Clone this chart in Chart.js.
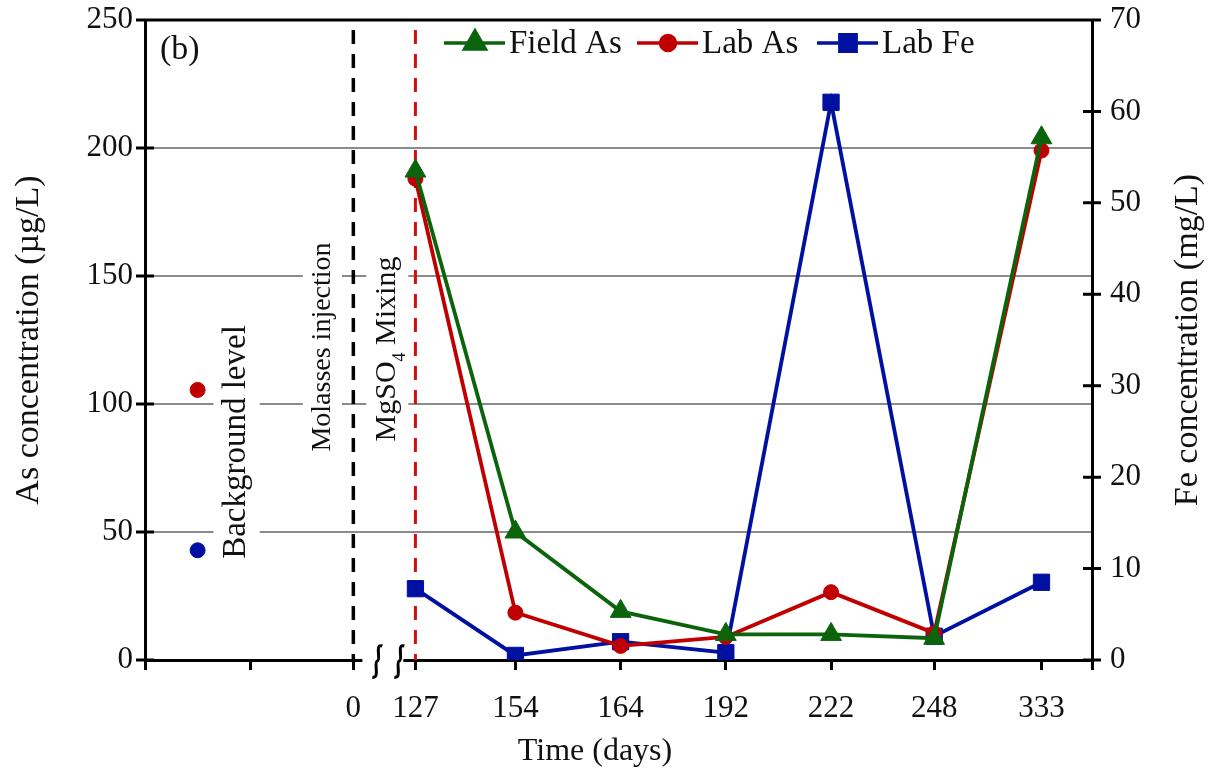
<!DOCTYPE html>
<html>
<head>
<meta charset="utf-8">
<script src="https://cdn.jsdelivr.net/npm/chart.js@4.4.1/dist/chart.umd.min.js"></script>
<style>
  html, body { margin: 0; padding: 0; background: #fff; }
  #wrap { width: 1210px; height: 778px; }
</style>
</head>
<body>
<div id="wrap"><canvas id="asFeChart" width="1210" height="778"></canvas></div>
<script>
const dayLabels = ['0', '127', '154', '164', '192', '222', '248', '333'];
// where each sampling day sits on the broken time axis (0 and 127 straddle the break)
const daySlots = [1.98, 2.57, 3.52, 4.52, 5.52, 6.52, 7.5, 8.52];
const fieldAs = [191, 50, 19, 10, 10, 8.5, 204];
const labAs = [188, 18.5, 5.5, 9, 26.5, 10.5, 199];
const labFe = [7.8, 0.5, 2, 0.8, 61, 2.6, 8.5];
const backgroundSlot = 0.5;
const backgroundAs = 105.5;
const backgroundFe = 12;
const asTicks = [0, 50, 100, 150, 200, 250];
const feTicks = [0, 10, 20, 30, 40, 50, 60, 70];

const SERIF = '"Liberation Serif", "Times New Roman", serif';
const INK = '#111';
const GREEN = '#0b640b';
const RED = '#c00000';
const BLUE = '#0010a0';

const sampled = values => values.map((v, i) => ({ x: daySlots[i + 1], y: v }));

const seriesStyle = [
    { label: 'Field As', color: GREEN, pointStyle: 'triangle', radius: 12 },
    { label: 'Lab As', color: RED, pointStyle: 'circle', radius: 7.5 },
    { label: 'Lab Fe', color: BLUE, pointStyle: 'rect', radius: 11.5 }
];

function vText(ctx, parts, cx, cy, size) {
    // rotated (bottom-to-top) label on a white backing; parts = [[text, sub?], ...]
    ctx.save();
    ctx.translate(cx, cy);
    ctx.rotate(-Math.PI / 2);
    ctx.textBaseline = 'middle';
    ctx.textAlign = 'left';
    const widths = parts.map(p => {
        ctx.font = (p[1] ? size * 0.6 : size) + 'px ' + SERIF;
        return ctx.measureText(p[0]).width;
    });
    const total = widths.reduce((a, b) => a + b, 0);
    ctx.fillStyle = '#fff';
    ctx.fillRect(-total / 2 - 5, -size * 0.7, total + 10, size * 1.4);
    ctx.fillStyle = INK;
    let x = -total / 2;
    parts.forEach((p, i) => {
        ctx.font = (p[1] ? size * 0.6 : size) + 'px ' + SERIF;
        ctx.fillText(p[0], x, p[1] ? size * 0.42 : 0);
        x += widths[i];
    });
    ctx.restore();
}

const decorations = {
    id: 'decorations',
    beforeDatasetsDraw(chart) {
        const { ctx, chartArea: area, scales: { x } } = chart;
        const x0 = x.getPixelForValue(daySlots[0]);
        const x127 = x.getPixelForValue(daySlots[1]);

        vText(ctx, [['Background level']], x.getPixelForValue(backgroundSlot) + 39, 442, 33);
        vText(ctx, [['Molasses injection']], x0 - 31, 347, 28);
        vText(ctx, [['MgSO'], ['4', true], [' Mixing']], x0 + 34, 349, 30);

        // event markers
        ctx.save();
        ctx.lineWidth = 3.5;
        ctx.setLineDash([14, 10]);
        ctx.strokeStyle = '#000';
        ctx.beginPath();
        ctx.moveTo(x0, area.top + 10);
        ctx.lineTo(x0, area.bottom);
        ctx.stroke();
        ctx.strokeStyle = '#d01010';
        ctx.lineWidth = 3;
        ctx.beginPath();
        ctx.moveTo(x127, area.top + 10);
        ctx.lineTo(x127, area.bottom);
        ctx.stroke();
        ctx.restore();
    },
    afterDraw(chart) {
        const { ctx, chartArea: area, scales: { x, y, y1 } } = chart;
        ctx.save();

        // frame top and crossing tick marks on both value axes
        ctx.strokeStyle = '#000';
        ctx.lineWidth = 3;
        ctx.beginPath();
        ctx.moveTo(area.left - 1.5, area.top);
        ctx.lineTo(area.right + 1.5, area.top);
        asTicks.forEach(v => {
            const py = y.getPixelForValue(v);
            ctx.moveTo(area.left - 9, py);
            ctx.lineTo(area.left + 9, py);
        });
        feTicks.forEach(v => {
            const py = y1.getPixelForValue(v);
            ctx.moveTo(area.right - 9, py);
            ctx.lineTo(area.right + 9, py);
        });
        ctx.stroke();

        // axis break between day 0 and day 127
        const bx = x.getPixelForValue(daySlots[0]) + 9;
        ctx.fillStyle = '#fff';
        ctx.fillRect(bx, area.bottom - 3, 41, 6);
        ctx.lineWidth = 3;
        [bx + 15, bx + 37].forEach(sx => {
            const by = area.bottom;
            ctx.beginPath();
            ctx.moveTo(sx + 5, by - 14);
            ctx.bezierCurveTo(sx - 3, by - 17, sx + 4, by, sx, by + 1);
            ctx.bezierCurveTo(sx - 4, by + 2, sx + 3, by + 19, sx - 5, by + 17);
            ctx.stroke();
        });

        // legend along the top
        const ly = 43;
        const starts = [444, 637, 817];
        seriesStyle.forEach((s, i) => {
            const lx = starts[i];
            ctx.strokeStyle = s.color;
            ctx.fillStyle = s.color;
            ctx.lineWidth = 3.5;
            ctx.beginPath();
            ctx.moveTo(lx, ly);
            ctx.lineTo(lx + 61, ly);
            ctx.stroke();
            Chart.helpers.drawPoint(ctx, { pointStyle: s.pointStyle, radius: s.radius, rotation: 0, borderWidth: 1 }, lx + 31, ly);
            ctx.fillStyle = INK;
            ctx.font = '33px ' + SERIF;
            ctx.textAlign = 'left';
            ctx.textBaseline = 'middle';
            ctx.fillText(s.label, lx + 65, ly + 1);
        });

        // panel tag and the titles not handled by the scales
        ctx.fillStyle = INK;
        ctx.font = '34px ' + SERIF;
        ctx.textAlign = 'left';
        ctx.textBaseline = 'middle';
        ctx.fillText('(b)', area.left + 15, 50);

        ctx.font = '32px ' + SERIF;
        ctx.textAlign = 'center';
        ctx.fillText('Time (days)', 595, 752);

        ctx.translate(1188, (area.top + area.bottom) / 2);
        ctx.rotate(-Math.PI / 2);
        ctx.font = '34px ' + SERIF;
        ctx.fillText('Fe concentration (mg/L)', 0, 0);
        ctx.restore();
    }
};

const tickFont = { family: SERIF, size: 31 };
// value axes must not push the plot area down for their end labels
const noEndPadding = s => { s.paddingTop = 0; s.paddingBottom = 0; };

new Chart(document.getElementById('asFeChart'), {
    type: 'line',
    data: {
        datasets: [
            {
                label: 'Field As', data: sampled(fieldAs), yAxisID: 'y',
                borderColor: GREEN, backgroundColor: GREEN, borderWidth: 3.8,
                pointStyle: 'triangle', pointRadius: 12, pointBorderWidth: 1
            },
            {
                label: 'Lab As', data: sampled(labAs), yAxisID: 'y',
                borderColor: RED, backgroundColor: RED, borderWidth: 3.8,
                pointStyle: 'circle', pointRadius: 7.5, pointBorderWidth: 1
            },
            {
                label: 'Lab Fe', data: sampled(labFe), yAxisID: 'y1',
                borderColor: BLUE, backgroundColor: BLUE, borderWidth: 3.8,
                pointStyle: 'rect', pointRadius: 11.5, pointBorderWidth: 1
            },
            {
                label: 'Background As', data: [{ x: backgroundSlot, y: backgroundAs }], yAxisID: 'y',
                showLine: false, borderColor: RED, backgroundColor: RED,
                pointStyle: 'circle', pointRadius: 7.5
            },
            {
                label: 'Background Fe', data: [{ x: backgroundSlot, y: backgroundFe }], yAxisID: 'y1',
                showLine: false, borderColor: BLUE, backgroundColor: BLUE,
                pointStyle: 'circle', pointRadius: 7.5
            }
        ]
    },
    options: {
        responsive: false,
        animation: false,
        devicePixelRatio: 1,
        layout: { padding: { top: 20, left: 0, right: 0, bottom: 0 } },
        plugins: { legend: { display: false }, tooltip: { enabled: false } },
        scales: {
            x: {
                type: 'linear', min: 0, max: 9,
                afterBuildTicks: s => { s.ticks = [0, 1, ...daySlots, 9].map(v => ({ value: v })); },
                afterFit: s => { s.height = 118; s.paddingLeft = 0; s.paddingRight = 0; },
                ticks: {
                    autoSkip: false, maxRotation: 0, padding: 20, font: tickFont, color: INK,
                    callback: v => { const i = daySlots.indexOf(v); return i >= 0 ? dayLabels[i] : ''; }
                },
                grid: { drawOnChartArea: false, drawTicks: true, tickLength: 10, color: '#000', lineWidth: 3 },
                border: { color: '#000', width: 3 }
            },
            y: {
                position: 'left', min: 0, max: 250,
                afterBuildTicks: s => { s.ticks = asTicks.map(v => ({ value: v })); },
                afterFit: s => { s.width = 145; noEndPadding(s); },
                ticks: { padding: 12, font: tickFont, color: INK },
                grid: {
                    drawTicks: false, lineWidth: 2,
                    color: c => (c.tick && c.tick.value > 0 && c.tick.value < 250) ? '#8c8c8c' : 'rgba(0,0,0,0)'
                },
                border: { color: '#000', width: 3 },
                title: {
                    display: true, text: 'As concentration (µg/L)', color: INK,
                    font: { family: SERIF, size: 34 }, padding: { top: 9, bottom: 0 }
                }
            },
            y1: {
                position: 'right', min: 0, max: 70,
                afterBuildTicks: s => { s.ticks = feTicks.map(v => ({ value: v })); },
                afterFit: s => { s.width = 118; noEndPadding(s); },
                ticks: { padding: 18, font: tickFont, color: INK },
                grid: { drawOnChartArea: false, drawTicks: false },
                border: { color: '#000', width: 3 }
            }
        }
    },
    plugins: [decorations]
});
</script>
</body>
</html>
